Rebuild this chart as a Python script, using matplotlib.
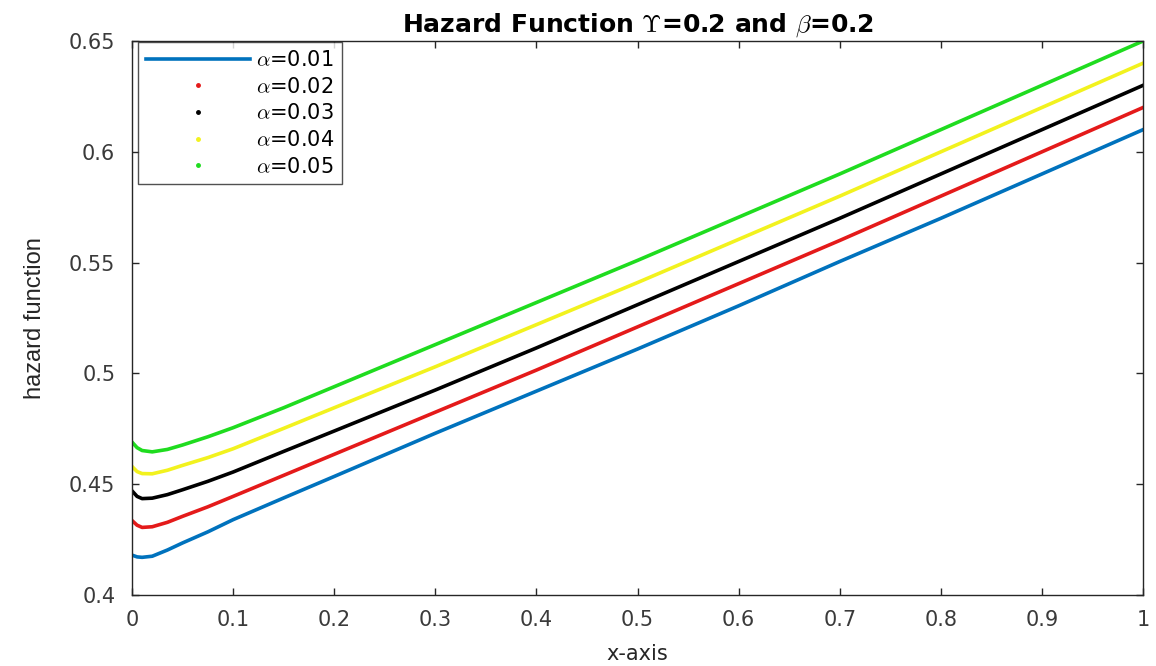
import matplotlib
matplotlib.use("Agg")
import matplotlib.pyplot as plt
from matplotlib.lines import Line2D

# l'image d'origine est etiree en largeur : police large pour s'en approcher
plt.rcParams['font.family'] = ['DejaVu Sans']
plt.rcParams['mathtext.fontset'] = 'cm'

# valeurs
x = [0, 0.005, 0.01, 0.02, 0.035, 0.05, 0.075, 0.1, 0.15, 0.2, 0.3, 0.4, 0.5, 0.6, 0.7, 0.8, 0.9, 1.0]

h_001 = [0.418, 0.4172, 0.417, 0.4175, 0.4203, 0.4235, 0.4285, 0.434, 0.4438, 0.4535,
         0.473, 0.492, 0.511, 0.5305, 0.5505, 0.570, 0.590, 0.610]
h_002 = [0.4336, 0.4315, 0.4305, 0.4308, 0.4328, 0.4355, 0.4398, 0.4445, 0.454, 0.4635,
         0.4825, 0.5015, 0.521, 0.5405, 0.560, 0.580, 0.600, 0.620]
h_003 = [0.447, 0.4445, 0.4435, 0.4437, 0.4453, 0.4475, 0.4513, 0.4555, 0.4648, 0.474,
         0.4925, 0.5115, 0.531, 0.5505, 0.570, 0.590, 0.610, 0.630]
h_004 = [0.458, 0.4557, 0.4548, 0.4547, 0.4563, 0.4585, 0.462, 0.466, 0.4752, 0.4845,
         0.503, 0.522, 0.541, 0.5605, 0.580, 0.600, 0.620, 0.640]
h_005 = [0.469, 0.4665, 0.4652, 0.4646, 0.4657, 0.4677, 0.4714, 0.4755, 0.4845, 0.494,
         0.513, 0.532, 0.551, 0.5705, 0.590, 0.610, 0.630, 0.650]

courbes = [h_001, h_002, h_003, h_004, h_005]
labels = [r'$\alpha$=0.01', r'$\alpha$=0.02', r'$\alpha$=0.03', r'$\alpha$=0.04', r'$\alpha$=0.05']
colors = ['#0072BD', '#e41a1a', '#000000', '#f2f21e', '#1fdc1f']

xticks = [0, 0.1, 0.2, 0.3, 0.4, 0.5, 0.6, 0.7, 0.8, 0.9, 1]
xticklabels = ['0', '0.1', '0.2', '0.3', '0.4', '0.5', '0.6', '0.7', '0.8', '0.9', '1']
yticks = [0.4, 0.45, 0.5, 0.55, 0.6, 0.65]
yticklabels = ['0.4', '0.45', '0.5', '0.55', '0.6', '0.65']

fig = plt.figure(figsize=(11.56, 6.66), dpi=100)
ax = fig.add_axes([0.1142, 0.1066, 0.8746, 0.8318])

lines = []
for y, c, lab in zip(courbes, colors, labels):
    ln, = ax.plot(x, y, color=c, linewidth=2.6, label=lab)
    lines.append(ln)

ax.set_xlim(0, 1)
ax.set_ylim(0.4, 0.65)
ax.set_xticks(xticks)
ax.set_xticklabels(xticklabels)
ax.set_yticks(yticks)
ax.set_yticklabels(yticklabels)

axcol = '#262626'
for s in ax.spines.values():
    s.set_color(axcol)
    s.set_linewidth(1.0)
ax.tick_params(direction='in', length=5, width=1, colors=axcol,
               labelcolor='#3a3a3a', labelsize=15, top=True, right=True)
ax.tick_params(axis='x', pad=11)
ax.tick_params(axis='y', pad=12)

ax.set_title(r'Hazard Function $\Upsilon$=0.2 and $\beta$=0.2',
             fontsize=18, fontweight='bold', pad=7)
ax.set_xlabel('x-axis', fontsize=15, color='#262626', labelpad=10)
ax.set_ylabel('hazard function', fontsize=17, color='#262626',
              family=['Liberation Sans', 'DejaVu Sans'])
ax.yaxis.set_label_coords(-0.085, 0.5)

# legende facon matlab : trait pour la premiere, points pour les autres
handles = [lines[0]]
for c in colors[1:]:
    handles.append(Line2D([], [], linestyle='none', marker='.', markersize=5, color=c))
leg = ax.legend(handles, labels, loc='upper left', bbox_to_anchor=(0.006, 0.998),
                borderaxespad=0, fontsize=15, frameon=True, fancybox=False,
                handlelength=5.0, handletextpad=0.3, labelspacing=0.32,
                borderpad=0.37, edgecolor=axcol)
leg.get_frame().set_linewidth(1.0)

fig.savefig('out.png', dpi=100)
